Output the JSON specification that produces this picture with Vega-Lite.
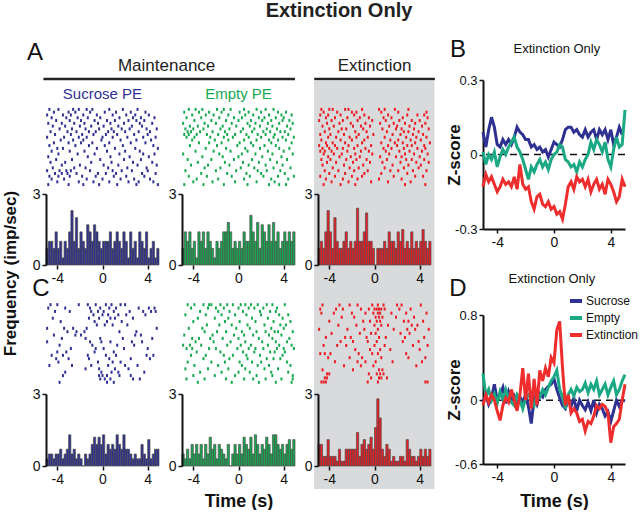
{
"$schema":"https://vega.github.io/schema/vega-lite/v6.json",
"background":"white",
"padding":{"left":1,"top":1,"right":0,"bottom":0},
"config":{
 "font":"Liberation Sans",
 "view":{"stroke":null},
 "axis":{"grid":false,"domainColor":"#111","tickColor":"#111","labelColor":"#111","titleColor":"#111","labelFontSize":14,"titleFontSize":17,"titleFontWeight":"bold","domainWidth":2,"tickWidth":1.5,"tickSize":4,"labelPadding":2},
 "title":{"color":"#111","fontWeight":"normal"},
 "text":{"color":"#111"}
},
"datasets":{
"rA1":[{"t":-4.7,"r":1},{"t":-3.9,"r":1},{"t":-2.6,"r":1},{"t":-2.1,"r":1},{"t":-1.4,"r":1},{"t":-0.9,"r":1},{"t":0.6,"r":1},{"t":1.8,"r":1},{"t":3.1,"r":1},
{"t":-4.3,"r":2},{"t":-3.0,"r":2},{"t":-2.4,"r":2},{"t":-1.1,"r":2},{"t":0.2,"r":2},{"t":1.2,"r":2},{"t":2.5,"r":2},{"t":3.8,"r":2},
{"t":-4.9,"r":3},{"t":-3.5,"r":3},{"t":-2.8,"r":3},{"t":-1.7,"r":3},{"t":-0.5,"r":3},{"t":0.9,"r":3},{"t":2.1,"r":3},{"t":2.9,"r":3},{"t":4.1,"r":3},
{"t":-4.5,"r":4},{"t":-3.2,"r":4},{"t":-2.2,"r":4},{"t":-1.3,"r":4},{"t":-0.2,"r":4},{"t":1.5,"r":4},{"t":2.7,"r":4},{"t":3.4,"r":4},{"t":4.6,"r":4},
{"t":-4.1,"r":5},{"t":-2.9,"r":5},{"t":-1.9,"r":5},{"t":-0.7,"r":5},{"t":0.4,"r":5},{"t":1.1,"r":5},{"t":2.3,"r":5},{"t":3.0,"r":5},{"t":3.7,"r":5},
{"t":-4.8,"r":6},{"t":-3.6,"r":6},{"t":-2.5,"r":6},{"t":-1.6,"r":6},{"t":-0.4,"r":6},{"t":0.7,"r":6},{"t":1.9,"r":6},{"t":3.3,"r":6},{"t":4.4,"r":6},
{"t":-4.4,"r":7},{"t":-3.3,"r":7},{"t":-2.0,"r":7},{"t":-1.0,"r":7},{"t":0.1,"r":7},{"t":1.4,"r":7},{"t":2.6,"r":7},{"t":3.5,"r":7},
{"t":-3.8,"r":8},{"t":-2.7,"r":8},{"t":-1.5,"r":8},{"t":-0.3,"r":8},{"t":0.8,"r":8},{"t":1.7,"r":8},{"t":2.4,"r":8},{"t":3.9,"r":8},{"t":4.8,"r":8},
{"t":-4.6,"r":9},{"t":-3.1,"r":9},{"t":-2.3,"r":9},{"t":-1.2,"r":9},{"t":-0.6,"r":9},{"t":0.5,"r":9},{"t":1.0,"r":9},{"t":2.0,"r":9},{"t":3.2,"r":9},{"t":4.2,"r":9},
{"t":-4.2,"r":10},{"t":-2.8,"r":10},{"t":-1.8,"r":10},{"t":-0.8,"r":10},{"t":0.3,"r":10},{"t":1.3,"r":10},{"t":2.8,"r":10},{"t":4.0,"r":10},
{"t":-4.9,"r":11},{"t":-3.4,"r":11},{"t":-2.1,"r":11},{"t":-1.4,"r":11},{"t":0.0,"r":11},{"t":0.9,"r":11},{"t":2.2,"r":11},{"t":3.6,"r":11},{"t":4.7,"r":11},
{"t":-3.7,"r":12},{"t":-2.6,"r":12},{"t":-1.7,"r":12},{"t":-0.1,"r":12},{"t":1.6,"r":12},{"t":3.0,"r":12},{"t":4.3,"r":12},
{"t":-4.3,"r":13},{"t":-3.0,"r":13},{"t":-1.9,"r":13},{"t":-0.9,"r":13},{"t":0.6,"r":13},{"t":2.5,"r":13},{"t":3.8,"r":13},
{"t":-4.7,"r":14},{"t":-2.4,"r":14},{"t":-1.2,"r":14},{"t":0.2,"r":14},{"t":1.8,"r":14},{"t":4.5,"r":14},
{"t":-4.0,"r":15},{"t":-3.5,"r":15},{"t":-0.5,"r":15},{"t":1.1,"r":15},{"t":2.9,"r":15},{"t":4.9,"r":15},
{"t":-4.5,"r":16},{"t":-2.9,"r":16},{"t":-1.6,"r":16},{"t":0.4,"r":16},{"t":2.0,"r":16},{"t":3.3,"r":16},
{"t":-3.9,"r":17},{"t":-2.2,"r":17},{"t":-0.7,"r":17},{"t":1.5,"r":17},{"t":3.6,"r":17},{"t":4.6,"r":17},
{"t":-4.8,"r":18},{"t":-1.3,"r":18},{"t":0.7,"r":18},{"t":2.4,"r":18},{"t":4.1,"r":18},
{"t":-4.1,"r":19},{"t":-2.7,"r":19},{"t":-0.2,"r":19},{"t":1.9,"r":19},{"t":3.4,"r":19},
{"t":-4.6,"r":20},{"t":-3.3,"r":20},{"t":-1.0,"r":20},{"t":0.8,"r":20},{"t":2.7,"r":20},{"t":4.4,"r":20},
{"t":-3.6,"r":21},{"t":-2.0,"r":21},{"t":0.1,"r":21},{"t":1.4,"r":21},{"t":3.1,"r":21},{"t":4.8,"r":21},
{"t":-4.4,"r":22},{"t":-2.5,"r":22},{"t":-1.5,"r":22},{"t":0.5,"r":22},{"t":2.2,"r":22},{"t":3.9,"r":22},
{"t":-4.9,"r":23},{"t":-3.8,"r":23},{"t":-3.2,"r":23},{"t":-2.8,"r":23},{"t":-1.1,"r":23},{"t":0.9,"r":23},{"t":1.7,"r":23},{"t":2.6,"r":23},{"t":4.0,"r":23},
{"t":-4.2,"r":24},{"t":-3.6,"r":24},{"t":-3.1,"r":24},{"t":-2.3,"r":24},{"t":-0.4,"r":24},{"t":0.3,"r":24},{"t":1.2,"r":24},{"t":3.5,"r":24},{"t":4.7,"r":24},
{"t":-4.7,"r":25},{"t":-3.9,"r":25},{"t":-2.9,"r":25},{"t":-1.8,"r":25},{"t":-0.6,"r":25},{"t":1.0,"r":25},{"t":2.1,"r":25},{"t":3.7,"r":25},
{"t":-4.5,"r":26},{"t":-3.4,"r":26},{"t":-1.4,"r":26},{"t":0.0,"r":26},{"t":1.6,"r":26},{"t":2.8,"r":26},{"t":4.2,"r":26},
{"t":-4.0,"r":27},{"t":-2.1,"r":27},{"t":-0.8,"r":27},{"t":0.6,"r":27},{"t":2.3,"r":27},{"t":3.2,"r":27},{"t":4.5,"r":27},
{"t":-4.8,"r":28},{"t":-3.0,"r":28},{"t":-1.7,"r":28},{"t":-0.3,"r":28},{"t":1.3,"r":28},{"t":3.0,"r":28},{"t":4.9,"r":28}],
"rA2":[{"t":-4.4,"r":1},{"t":-3.8,"r":1},{"t":-3.2,"r":1},{"t":-1.9,"r":1},{"t":-1.3,"r":1},{"t":-0.7,"r":1},{"t":0.5,"r":1},{"t":1.6,"r":1},{"t":2.4,"r":1},{"t":3.1,"r":1},
{"t":-4.8,"r":2},{"t":-3.5,"r":2},{"t":-2.6,"r":2},{"t":-1.5,"r":2},{"t":0.1,"r":2},{"t":0.9,"r":2},{"t":2.0,"r":2},{"t":3.5,"r":2},{"t":4.2,"r":2},
{"t":-4.1,"r":3},{"t":-2.9,"r":3},{"t":-2.2,"r":3},{"t":-0.9,"r":3},{"t":0.6,"r":3},{"t":1.3,"r":3},{"t":2.7,"r":3},{"t":3.8,"r":3},{"t":4.7,"r":3},
{"t":-4.6,"r":4},{"t":-3.3,"r":4},{"t":-1.7,"r":4},{"t":-0.4,"r":4},{"t":0.3,"r":4},{"t":1.8,"r":4},{"t":2.3,"r":4},{"t":3.3,"r":4},{"t":4.0,"r":4},
{"t":-3.9,"r":5},{"t":-2.4,"r":5},{"t":-1.1,"r":5},{"t":0.0,"r":5},{"t":1.1,"r":5},{"t":2.1,"r":5},{"t":2.9,"r":5},{"t":3.9,"r":5},{"t":4.5,"r":5},
{"t":-4.9,"r":6},{"t":-3.0,"r":6},{"t":-2.0,"r":6},{"t":-0.6,"r":6},{"t":0.8,"r":6},{"t":1.5,"r":6},{"t":2.6,"r":6},{"t":3.6,"r":6},{"t":4.8,"r":6},
{"t":-4.3,"r":7},{"t":-3.6,"r":7},{"t":-2.7,"r":7},{"t":-1.4,"r":7},{"t":-0.2,"r":7},{"t":1.0,"r":7},{"t":1.9,"r":7},{"t":3.0,"r":7},{"t":4.3,"r":7},
{"t":-4.7,"r":8},{"t":-4.0,"r":8},{"t":-3.1,"r":8},{"t":-1.6,"r":8},{"t":-0.8,"r":8},{"t":0.4,"r":8},{"t":1.4,"r":8},{"t":2.5,"r":8},{"t":3.4,"r":8},{"t":4.6,"r":8},
{"t":-4.5,"r":9},{"t":-4.2,"r":9},{"t":-3.4,"r":9},{"t":-2.3,"r":9},{"t":-1.2,"r":9},{"t":0.2,"r":9},{"t":1.2,"r":9},{"t":2.2,"r":9},{"t":2.8,"r":9},{"t":3.7,"r":9},{"t":4.1,"r":9},
{"t":-4.8,"r":10},{"t":-4.4,"r":10},{"t":-3.7,"r":10},{"t":-2.8,"r":10},{"t":-1.8,"r":10},{"t":-1.0,"r":10},{"t":-0.3,"r":10},{"t":0.7,"r":10},{"t":1.7,"r":10},{"t":2.4,"r":10},{"t":3.2,"r":10},{"t":4.4,"r":10},
{"t":-4.6,"r":11},{"t":-3.9,"r":11},{"t":-2.5,"r":11},{"t":-1.3,"r":11},{"t":-0.5,"r":11},{"t":0.9,"r":11},{"t":2.0,"r":11},{"t":3.1,"r":11},{"t":3.9,"r":11},{"t":4.9,"r":11},
{"t":-4.1,"r":12},{"t":-2.1,"r":12},{"t":-0.9,"r":12},{"t":0.5,"r":12},{"t":1.6,"r":12},{"t":2.7,"r":12},{"t":3.5,"r":12},{"t":4.2,"r":12},
{"t":-3.5,"r":13},{"t":-2.6,"r":13},{"t":-1.5,"r":13},{"t":0.1,"r":13},{"t":1.1,"r":13},{"t":2.9,"r":13},{"t":4.7,"r":13},
{"t":-4.3,"r":14},{"t":-1.9,"r":14},{"t":-0.1,"r":14},{"t":1.3,"r":14},{"t":2.3,"r":14},{"t":3.3,"r":14},
{"t":-2.9,"r":15},{"t":-1.1,"r":15},{"t":0.6,"r":15},{"t":1.9,"r":15},{"t":3.6,"r":15},{"t":4.5,"r":15},
{"t":-3.8,"r":16},{"t":-2.2,"r":16},{"t":-0.7,"r":16},{"t":0.8,"r":16},{"t":2.6,"r":16},{"t":4.0,"r":16},
{"t":-4.9,"r":17},{"t":-1.7,"r":17},{"t":0.3,"r":17},{"t":1.5,"r":17},{"t":3.0,"r":17},{"t":4.8,"r":17},
{"t":-3.2,"r":18},{"t":-1.4,"r":18},{"t":0.0,"r":18},{"t":2.1,"r":18},{"t":3.8,"r":18},
{"t":-4.5,"r":19},{"t":-2.4,"r":19},{"t":-0.4,"r":19},{"t":1.2,"r":19},{"t":2.8,"r":19},{"t":4.3,"r":19},
{"t":-3.6,"r":20},{"t":-1.2,"r":20},{"t":0.4,"r":20},{"t":1.8,"r":20},{"t":3.4,"r":20},
{"t":-4.2,"r":21},{"t":-2.7,"r":21},{"t":-0.8,"r":21},{"t":0.9,"r":21},{"t":2.4,"r":21},{"t":3.9,"r":21},
{"t":-3.0,"r":22},{"t":-1.6,"r":22},{"t":0.2,"r":22},{"t":1.4,"r":22},{"t":3.1,"r":22},{"t":4.6,"r":22},
{"t":-4.7,"r":23},{"t":-2.0,"r":23},{"t":-0.2,"r":23},{"t":1.7,"r":23},{"t":2.5,"r":23},{"t":3.7,"r":23},
{"t":-3.3,"r":24},{"t":-1.0,"r":24},{"t":0.7,"r":24},{"t":2.0,"r":24},{"t":4.1,"r":24},
{"t":-4.4,"r":25},{"t":-2.8,"r":25},{"t":-0.6,"r":25},{"t":1.0,"r":25},{"t":2.2,"r":25},{"t":3.5,"r":25},{"t":4.9,"r":25},
{"t":-3.7,"r":26},{"t":-1.8,"r":26},{"t":0.5,"r":26},{"t":2.9,"r":26},{"t":4.4,"r":26},
{"t":-4.0,"r":27},{"t":-2.3,"r":27},{"t":-0.3,"r":27},{"t":1.6,"r":27},{"t":3.2,"r":27},
{"t":-4.8,"r":28},{"t":-3.1,"r":28},{"t":-1.3,"r":28},{"t":0.8,"r":28},{"t":2.7,"r":28},{"t":3.6,"r":28},{"t":4.2,"r":28}],
"rA3":[{"t":-4.7,"r":1},{"t":-4.0,"r":1},{"t":-3.7,"r":1},{"t":-2.6,"r":1},{"t":-2.3,"r":1},{"t":-1.1,"r":1},{"t":0.4,"r":1},{"t":0.9,"r":1},{"t":1.8,"r":1},{"t":3.0,"r":1},
{"t":-4.5,"r":2},{"t":-3.3,"r":2},{"t":-2.0,"r":2},{"t":-1.6,"r":2},{"t":0.6,"r":2},{"t":2.1,"r":2},{"t":4.6,"r":2},
{"t":-4.8,"r":3},{"t":-4.1,"r":3},{"t":-3.0,"r":3},{"t":-1.8,"r":3},{"t":-0.9,"r":3},{"t":1.2,"r":3},{"t":2.9,"r":3},{"t":3.8,"r":3},{"t":4.4,"r":3},
{"t":-4.3,"r":4},{"t":-3.5,"r":4},{"t":-2.4,"r":4},{"t":-1.3,"r":4},{"t":-0.5,"r":4},{"t":0.8,"r":4},{"t":1.5,"r":4},{"t":2.5,"r":4},{"t":4.7,"r":4},
{"t":-4.9,"r":5},{"t":-3.8,"r":5},{"t":-2.8,"r":5},{"t":-1.5,"r":5},{"t":-0.2,"r":5},{"t":1.0,"r":5},{"t":2.2,"r":5},{"t":3.3,"r":5},{"t":4.0,"r":5},
{"t":-4.2,"r":6},{"t":-3.1,"r":6},{"t":-2.1,"r":6},{"t":-0.8,"r":6},{"t":0.5,"r":6},{"t":1.7,"r":6},{"t":2.7,"r":6},{"t":3.6,"r":6},{"t":4.5,"r":6},
{"t":-4.6,"r":7},{"t":-3.6,"r":7},{"t":-1.9,"r":7},{"t":-1.2,"r":7},{"t":-0.4,"r":7},{"t":1.3,"r":7},{"t":2.0,"r":7},{"t":3.1,"r":7},{"t":4.2,"r":7},
{"t":-4.0,"r":8},{"t":-2.9,"r":8},{"t":-2.5,"r":8},{"t":-1.0,"r":8},{"t":0.7,"r":8},{"t":1.9,"r":8},{"t":2.4,"r":8},{"t":3.5,"r":8},{"t":4.8,"r":8},
{"t":-4.4,"r":9},{"t":-3.2,"r":9},{"t":-1.7,"r":9},{"t":-0.7,"r":9},{"t":1.1,"r":9},{"t":2.6,"r":9},{"t":3.0,"r":9},{"t":3.9,"r":9},
{"t":-4.8,"r":10},{"t":-3.9,"r":10},{"t":-2.7,"r":10},{"t":-1.4,"r":10},{"t":-0.1,"r":10},{"t":1.6,"r":10},{"t":2.3,"r":10},{"t":3.4,"r":10},{"t":4.3,"r":10},
{"t":-4.1,"r":11},{"t":-3.4,"r":11},{"t":-2.2,"r":11},{"t":-1.6,"r":11},{"t":-0.6,"r":11},{"t":0.9,"r":11},{"t":2.8,"r":11},{"t":3.7,"r":11},{"t":4.6,"r":11},
{"t":-4.7,"r":12},{"t":-3.0,"r":12},{"t":-2.0,"r":12},{"t":-0.9,"r":12},{"t":1.4,"r":12},{"t":2.1,"r":12},{"t":3.2,"r":12},{"t":4.1,"r":12},
{"t":-4.3,"r":13},{"t":-3.7,"r":13},{"t":-2.6,"r":13},{"t":-1.1,"r":13},{"t":0.6,"r":13},{"t":1.8,"r":13},{"t":2.5,"r":13},{"t":3.6,"r":13},{"t":4.9,"r":13},
{"t":-4.9,"r":14},{"t":-4.2,"r":14},{"t":-3.5,"r":14},{"t":-2.3,"r":14},{"t":-1.5,"r":14},{"t":-0.3,"r":14},{"t":1.2,"r":14},{"t":2.0,"r":14},{"t":2.9,"r":14},{"t":3.3,"r":14},{"t":4.4,"r":14},
{"t":-4.6,"r":15},{"t":-4.0,"r":15},{"t":-3.3,"r":15},{"t":-2.8,"r":15},{"t":-1.8,"r":15},{"t":-0.8,"r":15},{"t":0.8,"r":15},{"t":1.5,"r":15},{"t":2.6,"r":15},{"t":3.8,"r":15},{"t":4.5,"r":15},
{"t":-4.8,"r":16},{"t":-4.4,"r":16},{"t":-3.8,"r":16},{"t":-2.4,"r":16},{"t":-1.2,"r":16},{"t":-0.5,"r":16},{"t":1.0,"r":16},{"t":2.2,"r":16},{"t":3.1,"r":16},{"t":4.2,"r":16},
{"t":-4.5,"r":17},{"t":-3.6,"r":17},{"t":-2.9,"r":17},{"t":-1.7,"r":17},{"t":-0.2,"r":17},{"t":1.3,"r":17},{"t":2.7,"r":17},{"t":3.5,"r":17},{"t":4.7,"r":17},
{"t":-4.1,"r":18},{"t":-3.1,"r":18},{"t":-2.1,"r":18},{"t":-1.3,"r":18},{"t":0.5,"r":18},{"t":1.9,"r":18},{"t":2.4,"r":18},{"t":4.0,"r":18},
{"t":-4.7,"r":19},{"t":-3.9,"r":19},{"t":-2.5,"r":19},{"t":-1.6,"r":19},{"t":-0.7,"r":19},{"t":1.1,"r":19},{"t":2.8,"r":19},{"t":3.3,"r":19},{"t":4.4,"r":19},
{"t":-4.2,"r":20},{"t":-3.4,"r":20},{"t":-1.9,"r":20},{"t":-0.4,"r":20},{"t":0.7,"r":20},{"t":2.3,"r":20},{"t":3.7,"r":20},{"t":4.8,"r":20},
{"t":-4.6,"r":21},{"t":-2.7,"r":21},{"t":-1.0,"r":21},{"t":1.6,"r":21},{"t":3.0,"r":21},{"t":4.1,"r":21},
{"t":-3.7,"r":22},{"t":-2.2,"r":22},{"t":-1.4,"r":22},{"t":0.9,"r":22},{"t":2.6,"r":22},{"t":3.9,"r":22},
{"t":-4.4,"r":23},{"t":-3.2,"r":23},{"t":-1.8,"r":23},{"t":-0.6,"r":23},{"t":1.4,"r":23},{"t":2.1,"r":23},{"t":3.4,"r":23},{"t":4.6,"r":23},
{"t":-4.0,"r":24},{"t":-2.6,"r":24},{"t":-0.9,"r":24},{"t":0.6,"r":24},{"t":2.9,"r":24},
{"t":-4.8,"r":25},{"t":-3.5,"r":25},{"t":-2.0,"r":25},{"t":-1.1,"r":25},{"t":1.7,"r":25},{"t":3.6,"r":25},{"t":4.3,"r":25},
{"t":-4.3,"r":26},{"t":-2.8,"r":26},{"t":-1.5,"r":26},{"t":0.4,"r":26},{"t":2.4,"r":26},
{"t":-3.8,"r":27},{"t":-2.3,"r":27},{"t":-0.3,"r":27},{"t":1.2,"r":27},{"t":3.2,"r":27},
{"t":-4.5,"r":28},{"t":-3.0,"r":28},{"t":-1.7,"r":28},{"t":2.7,"r":28},{"t":4.5,"r":28}],
"rC1":[{"t":-4.6,"r":1},{"t":-4.0,"r":1},{"t":-2.1,"r":1},{"t":-1.3,"r":1},{"t":-0.6,"r":1},{"t":0.3,"r":1},{"t":0.8,"r":1},{"t":1.6,"r":1},{"t":2.0,"r":1},
{"t":-4.8,"r":2},{"t":-3.3,"r":2},{"t":-1.1,"r":2},{"t":-0.2,"r":2},{"t":0.6,"r":2},{"t":1.2,"r":2},{"t":3.2,"r":2},{"t":4.1,"r":2},{"t":4.6,"r":2},
{"t":-4.2,"r":3},{"t":-2.9,"r":3},{"t":-1.0,"r":3},{"t":-0.4,"r":3},{"t":0.1,"r":3},{"t":1.0,"r":3},{"t":2.4,"r":3},{"t":3.6,"r":3},{"t":4.3,"r":3},{"t":4.7,"r":3},
{"t":-0.8,"r":4},{"t":0.0,"r":4},{"t":0.5,"r":4},{"t":1.4,"r":4},{"t":2.1,"r":4},{"t":3.8,"r":4},
{"t":-4.4,"r":5},{"t":-1.2,"r":5},{"t":-0.3,"r":5},{"t":0.7,"r":5},{"t":1.1,"r":5},{"t":2.7,"r":5},
{"t":-3.7,"r":6},{"t":-0.7,"r":6},{"t":0.4,"r":6},{"t":1.7,"r":6},
{"t":-0.5,"r":7},{"t":0.2,"r":7},{"t":0.9,"r":7},{"t":2.2,"r":7},
{"t":-4.9,"r":8},{"t":-3.4,"r":8},{"t":-2.6,"r":8},{"t":-1.4,"r":8},{"t":4.8,"r":8},
{"t":-3.1,"r":9},{"t":-2.3,"r":9},{"t":-1.6,"r":9},{"t":1.5,"r":9},{"t":3.0,"r":9},
{"t":-4.3,"r":10},{"t":-2.4,"r":10},{"t":-1.9,"r":10},{"t":2.9,"r":10},{"t":3.4,"r":10},
{"t":-3.6,"r":11},{"t":-1.5,"r":11},{"t":-0.2,"r":11},{"t":1.8,"r":11},{"t":4.4,"r":11},
{"t":-4.9,"r":12},{"t":-1.1,"r":12},{"t":-0.1,"r":12},{"t":0.7,"r":12},{"t":2.6,"r":12},{"t":3.5,"r":12},
{"t":-3.8,"r":13},{"t":-0.9,"r":13},{"t":1.3,"r":13},{"t":2.8,"r":13},
{"t":-2.8,"r":14},{"t":-0.6,"r":14},{"t":0.1,"r":14},{"t":1.9,"r":14},{"t":4.0,"r":14},
{"t":-4.0,"r":15},{"t":-3.2,"r":15},{"t":-0.7,"r":15},{"t":1.0,"r":15},
{"t":-4.5,"r":16},{"t":-3.5,"r":16},{"t":-1.3,"r":16},{"t":0.3,"r":16},{"t":1.2,"r":16},{"t":3.9,"r":16},{"t":4.5,"r":16},
{"t":-4.1,"r":17},{"t":-3.0,"r":17},{"t":-1.2,"r":17},{"t":0.6,"r":17},{"t":2.5,"r":17},{"t":4.2,"r":17},
{"t":-3.9,"r":18},{"t":-0.4,"r":18},{"t":0.9,"r":18},{"t":1.6,"r":18},
{"t":-4.7,"r":19},{"t":-2.7,"r":19},{"t":-1.0,"r":19},{"t":0.5,"r":19},{"t":2.0,"r":19},{"t":3.1,"r":19},
{"t":-1.5,"r":20},{"t":-0.3,"r":20},{"t":1.1,"r":20},{"t":2.3,"r":20},
{"t":-3.3,"r":21},{"t":-0.1,"r":21},{"t":0.8,"r":21},{"t":1.4,"r":21},{"t":3.7,"r":21},
{"t":-3.5,"r":22},{"t":-0.3,"r":22},{"t":0.0,"r":22},{"t":0.4,"r":22},{"t":1.5,"r":22},{"t":2.5,"r":22},
{"t":-0.2,"r":23},{"t":0.2,"r":23},{"t":0.7,"r":23},{"t":2.7,"r":23},{"t":3.3,"r":23},
{"t":-3.8,"r":24},{"t":0.4,"r":24},{"t":1.0,"r":24}],
"rC2":[{"t":-4.5,"r":1},{"t":-3.9,"r":1},{"t":-3.1,"r":1},{"t":-2.6,"r":1},{"t":-2.4,"r":1},{"t":-1.6,"r":1},{"t":-1.0,"r":1},{"t":-0.5,"r":1},{"t":0.2,"r":1},{"t":0.6,"r":1},{"t":1.1,"r":1},{"t":1.7,"r":1},{"t":2.5,"r":1},{"t":3.0,"r":1},{"t":4.1,"r":1},
{"t":-4.2,"r":2},{"t":-2.7,"r":2},{"t":-2.0,"r":2},{"t":-1.3,"r":2},{"t":0.0,"r":2},{"t":0.9,"r":2},{"t":1.4,"r":2},{"t":2.2,"r":2},{"t":3.4,"r":2},
{"t":-3.4,"r":3},{"t":-1.8,"r":3},{"t":-0.8,"r":3},{"t":0.4,"r":3},{"t":1.9,"r":3},{"t":2.8,"r":3},{"t":3.3,"r":3},
{"t":-4.7,"r":4},{"t":-2.9,"r":4},{"t":-1.5,"r":4},{"t":-0.3,"r":4},{"t":0.7,"r":4},{"t":2.0,"r":4},{"t":3.6,"r":4},{"t":4.4,"r":4},
{"t":-3.6,"r":5},{"t":-2.1,"r":5},{"t":-0.9,"r":5},{"t":1.2,"r":5},{"t":2.6,"r":5},{"t":3.9,"r":5},
{"t":-4.0,"r":6},{"t":-1.2,"r":6},{"t":0.1,"r":6},{"t":1.5,"r":6},{"t":3.1,"r":6},{"t":4.6,"r":6},
{"t":-2.8,"r":7},{"t":-1.7,"r":7},{"t":-0.6,"r":7},{"t":0.8,"r":7},{"t":2.3,"r":7},{"t":3.7,"r":7},{"t":4.2,"r":7},
{"t":-4.4,"r":8},{"t":-3.2,"r":8},{"t":-0.2,"r":8},{"t":1.0,"r":8},{"t":2.9,"r":8},{"t":4.0,"r":8},
{"t":-3.0,"r":9},{"t":-1.9,"r":9},{"t":-1.1,"r":9},{"t":0.3,"r":9},{"t":1.6,"r":9},{"t":2.4,"r":9},{"t":3.2,"r":9},{"t":3.5,"r":9},{"t":4.8,"r":9},
{"t":-4.8,"r":10},{"t":-2.3,"r":10},{"t":-0.4,"r":10},{"t":0.5,"r":10},{"t":1.3,"r":10},{"t":2.7,"r":10},{"t":3.8,"r":10},
{"t":-4.1,"r":11},{"t":-3.5,"r":11},{"t":-2.5,"r":11},{"t":-1.4,"r":11},{"t":0.0,"r":11},{"t":1.8,"r":11},{"t":3.0,"r":11},{"t":4.5,"r":11},
{"t":-3.8,"r":12},{"t":-2.2,"r":12},{"t":-0.7,"r":12},{"t":0.6,"r":12},{"t":2.1,"r":12},{"t":3.3,"r":12},{"t":4.3,"r":12},
{"t":-4.9,"r":13},{"t":-4.3,"r":13},{"t":-3.3,"r":13},{"t":-1.0,"r":13},{"t":0.2,"r":13},{"t":1.1,"r":13},{"t":2.6,"r":13},{"t":3.6,"r":13},{"t":4.7,"r":13},
{"t":-4.6,"r":14},{"t":-4.1,"r":14},{"t":-2.6,"r":14},{"t":-2.0,"r":14},{"t":-0.1,"r":14},{"t":0.9,"r":14},{"t":1.5,"r":14},{"t":2.2,"r":14},{"t":3.4,"r":14},{"t":4.0,"r":14},{"t":4.9,"r":14},
{"t":-3.7,"r":15},{"t":-1.6,"r":15},{"t":0.4,"r":15},{"t":1.4,"r":15},{"t":2.8,"r":15},{"t":3.2,"r":15},{"t":4.1,"r":15},
{"t":-4.2,"r":16},{"t":-2.9,"r":16},{"t":-1.3,"r":16},{"t":-0.5,"r":16},{"t":0.7,"r":16},{"t":1.9,"r":16},{"t":3.9,"r":16},
{"t":-3.1,"r":17},{"t":-0.8,"r":17},{"t":0.8,"r":17},{"t":2.5,"r":17},{"t":3.1,"r":17},{"t":3.7,"r":17},
{"t":-4.5,"r":18},{"t":-2.4,"r":18},{"t":-1.2,"r":18},{"t":0.1,"r":18},{"t":1.2,"r":18},{"t":2.0,"r":18},{"t":4.3,"r":18},
{"t":-3.9,"r":19},{"t":-1.8,"r":19},{"t":0.3,"r":19},{"t":1.7,"r":19},{"t":2.7,"r":19},{"t":4.6,"r":19},
{"t":-4.7,"r":20},{"t":-2.7,"r":20},{"t":-0.9,"r":20},{"t":0.6,"r":20},{"t":2.3,"r":20},{"t":3.5,"r":20},
{"t":-3.4,"r":21},{"t":-1.5,"r":21},{"t":0.0,"r":21},{"t":1.0,"r":21},{"t":2.9,"r":21},{"t":4.4,"r":21},
{"t":-4.0,"r":22},{"t":-2.1,"r":22},{"t":-0.3,"r":22},{"t":1.6,"r":22},{"t":3.0,"r":22},{"t":4.8,"r":22},
{"t":-4.6,"r":23},{"t":-3.0,"r":23},{"t":-1.1,"r":23},{"t":0.5,"r":23},{"t":1.3,"r":23},{"t":2.4,"r":23},{"t":3.8,"r":23},{"t":4.8,"r":23},
{"t":-3.6,"r":24},{"t":-0.6,"r":24},{"t":1.8,"r":24},{"t":3.3,"r":24},{"t":4.7,"r":24}],
"rC3":[{"t":-4.6,"r":1},{"t":-3.1,"r":1},{"t":-2.2,"r":1},{"t":-1.5,"r":1},{"t":-0.2,"r":1},{"t":0.3,"r":1},{"t":0.8,"r":1},{"t":2.0,"r":1},{"t":2.4,"r":1},{"t":4.1,"r":1},
{"t":-4.8,"r":2},{"t":-3.4,"r":2},{"t":-2.8,"r":2},{"t":-1.2,"r":2},{"t":-0.5,"r":2},{"t":0.0,"r":2},{"t":0.2,"r":2},{"t":0.4,"r":2},{"t":0.6,"r":2},{"t":0.9,"r":2},{"t":2.2,"r":2},{"t":3.2,"r":2},
{"t":-4.7,"r":3},{"t":-3.6,"r":3},{"t":-2.0,"r":3},{"t":-0.8,"r":3},{"t":-0.1,"r":3},{"t":0.3,"r":3},{"t":0.5,"r":3},{"t":1.5,"r":3},{"t":2.8,"r":3},{"t":4.6,"r":3},
{"t":-2.9,"r":4},{"t":-1.8,"r":4},{"t":0.1,"r":4},{"t":0.4,"r":4},{"t":0.7,"r":4},{"t":1.9,"r":4},{"t":3.5,"r":4},
{"t":-4.0,"r":5},{"t":-1.0,"r":5},{"t":-0.4,"r":5},{"t":0.2,"r":5},{"t":0.5,"r":5},{"t":2.6,"r":5},{"t":3.0,"r":5},{"t":4.3,"r":5},
{"t":-3.2,"r":6},{"t":-1.6,"r":6},{"t":0.0,"r":6},{"t":0.6,"r":6},{"t":1.2,"r":6},{"t":3.3,"r":6},{"t":3.8,"r":6},
{"t":-4.9,"r":7},{"t":-2.4,"r":7},{"t":-0.9,"r":7},{"t":0.3,"r":7},{"t":1.7,"r":7},{"t":2.9,"r":7},{"t":3.6,"r":7},{"t":4.8,"r":7},
{"t":-3.8,"r":8},{"t":-1.3,"r":8},{"t":-0.3,"r":8},{"t":0.1,"r":8},{"t":2.3,"r":8},{"t":3.1,"r":8},
{"t":-4.3,"r":9},{"t":-2.6,"r":9},{"t":-2.1,"r":9},{"t":-0.7,"r":9},{"t":0.4,"r":9},{"t":1.0,"r":9},{"t":2.7,"r":9},{"t":4.4,"r":9},
{"t":-3.0,"r":10},{"t":-1.9,"r":10},{"t":-0.6,"r":10},{"t":0.2,"r":10},{"t":2.5,"r":10},{"t":3.9,"r":10},
{"t":-4.5,"r":11},{"t":-3.3,"r":11},{"t":-2.5,"r":11},{"t":0.0,"r":11},{"t":0.9,"r":11},{"t":3.4,"r":11},{"t":4.7,"r":11},
{"t":-1.7,"r":12},{"t":-0.4,"r":12},{"t":0.5,"r":12},{"t":1.4,"r":12},{"t":4.0,"r":12},
{"t":-4.8,"r":13},{"t":-4.4,"r":13},{"t":-3.9,"r":13},{"t":-1.4,"r":13},{"t":-0.2,"r":13},{"t":0.3,"r":13},{"t":2.8,"r":13},
{"t":-4.1,"r":14},{"t":-2.2,"r":14},{"t":-1.1,"r":14},{"t":0.6,"r":14},{"t":3.0,"r":14},{"t":4.5,"r":14},
{"t":-3.5,"r":15},{"t":-1.5,"r":15},{"t":-0.8,"r":15},{"t":0.1,"r":15},{"t":1.6,"r":15},{"t":4.2,"r":15},
{"t":-2.7,"r":16},{"t":-1.2,"r":16},{"t":-0.1,"r":16},{"t":3.7,"r":16},
{"t":-4.6,"r":17},{"t":-1.9,"r":17},{"t":0.4,"r":17},{"t":0.7,"r":17},
{"t":-4.2,"r":18},{"t":-4.0,"r":18},{"t":-0.5,"r":18},{"t":0.2,"r":18},{"t":0.5,"r":18},{"t":0.8,"r":18},
{"t":-4.4,"r":19},{"t":-4.2,"r":19},{"t":-0.3,"r":19},{"t":0.4,"r":19},{"t":0.6,"r":19},{"t":1.1,"r":19},
{"t":-4.7,"r":20},{"t":-4.5,"r":20},{"t":-4.3,"r":20},{"t":-0.6,"r":20},{"t":0.3,"r":20},{"t":4.5,"r":20},{"t":4.7,"r":20}],
"hA1":[{"t0":-5,"t1":-4.8,"rate":0.7},{"t0":-4.8,"t1":-4.6,"rate":1.0},{"t0":-4.6,"t1":-4.4,"rate":1.0},{"t0":-4.4,"t1":-4.2,"rate":0.7},{"t0":-4.2,"t1":-4,"rate":1.4},{"t0":-4,"t1":-3.8,"rate":0.7},{"t0":-3.8,"t1":-3.6,"rate":1.0},{"t0":-3.6,"t1":-3.4,"rate":0.3},{"t0":-3.4,"t1":-3.2,"rate":1.0},{"t0":-3.2,"t1":-3,"rate":0.7},{"t0":-3,"t1":-2.8,"rate":1.4},{"t0":-2.8,"t1":-2.6,"rate":2.3},{"t0":-2.6,"t1":-2.4,"rate":1.0},{"t0":-2.4,"t1":-2.2,"rate":2.0},{"t0":-2.2,"t1":-2,"rate":0.7},{"t0":-2,"t1":-1.8,"rate":1.4},{"t0":-1.8,"t1":-1.6,"rate":1.0},{"t0":-1.6,"t1":-1.4,"rate":0.7},{"t0":-1.4,"t1":-1.2,"rate":1.7},{"t0":-1.2,"t1":-1,"rate":1.4},{"t0":-1,"t1":-0.8,"rate":1.0},{"t0":-0.8,"t1":-0.6,"rate":1.7},{"t0":-0.6,"t1":-0.4,"rate":1.4},{"t0":-0.4,"t1":-0.2,"rate":1.0},{"t0":-0.2,"t1":0,"rate":0.7},{"t0":0,"t1":0.2,"rate":1.0},{"t0":0.2,"t1":0.4,"rate":1.0},{"t0":0.4,"t1":0.6,"rate":1.0},{"t0":0.6,"t1":0.8,"rate":1.4},{"t0":0.8,"t1":1,"rate":0.7},{"t0":1,"t1":1.2,"rate":1.0},{"t0":1.2,"t1":1.4,"rate":1.4},{"t0":1.4,"t1":1.6,"rate":1.0},{"t0":1.6,"t1":1.8,"rate":0.7},{"t0":1.8,"t1":2,"rate":1.4},{"t0":2,"t1":2.2,"rate":1.0},{"t0":2.2,"t1":2.4,"rate":0.3},{"t0":2.4,"t1":2.6,"rate":1.4},{"t0":2.6,"t1":2.8,"rate":0.7},{"t0":2.8,"t1":3,"rate":1.0},{"t0":3,"t1":3.2,"rate":0.3},{"t0":3.2,"t1":3.4,"rate":1.4},{"t0":3.4,"t1":3.6,"rate":1.0},{"t0":3.6,"t1":3.8,"rate":0.7},{"t0":3.8,"t1":4,"rate":1.4},{"t0":4,"t1":4.2,"rate":0.3},{"t0":4.2,"t1":4.4,"rate":0.7},{"t0":4.4,"t1":4.6,"rate":1.0},{"t0":4.6,"t1":4.8,"rate":0.3},{"t0":4.8,"t1":5,"rate":0.7}],
"hA2":[{"t0":-5,"t1":-4.8,"rate":0.7},{"t0":-4.8,"t1":-4.6,"rate":1.4},{"t0":-4.6,"t1":-4.4,"rate":1.0},{"t0":-4.4,"t1":-4.2,"rate":1.4},{"t0":-4.2,"t1":-4,"rate":0.7},{"t0":-4,"t1":-3.8,"rate":1.0},{"t0":-3.8,"t1":-3.6,"rate":0.3},{"t0":-3.6,"t1":-3.4,"rate":1.4},{"t0":-3.4,"t1":-3.2,"rate":1.0},{"t0":-3.2,"t1":-3,"rate":1.4},{"t0":-3,"t1":-2.8,"rate":0.7},{"t0":-2.8,"t1":-2.6,"rate":1.4},{"t0":-2.6,"t1":-2.4,"rate":1.0},{"t0":-2.4,"t1":-2.2,"rate":0.7},{"t0":-2.2,"t1":-2,"rate":0.3},{"t0":-2,"t1":-1.8,"rate":1.0},{"t0":-1.8,"t1":-1.6,"rate":0.7},{"t0":-1.6,"t1":-1.4,"rate":1.0},{"t0":-1.4,"t1":-1.2,"rate":1.4},{"t0":-1.2,"t1":-1,"rate":1.4},{"t0":-1,"t1":-0.8,"rate":1.8},{"t0":-0.8,"t1":-0.6,"rate":1.4},{"t0":-0.6,"t1":-0.4,"rate":0.7},{"t0":-0.4,"t1":-0.2,"rate":1.0},{"t0":-0.2,"t1":0,"rate":0.7},{"t0":0,"t1":0.2,"rate":1.0},{"t0":0.2,"t1":0.4,"rate":0.7},{"t0":0.4,"t1":0.6,"rate":1.4},{"t0":0.6,"t1":0.8,"rate":1.0},{"t0":0.8,"t1":1,"rate":1.0},{"t0":1,"t1":1.2,"rate":2.1},{"t0":1.2,"t1":1.4,"rate":1.4},{"t0":1.4,"t1":1.6,"rate":1.0},{"t0":1.6,"t1":1.8,"rate":1.8},{"t0":1.8,"t1":2,"rate":0.7},{"t0":2,"t1":2.2,"rate":1.7},{"t0":2.2,"t1":2.4,"rate":1.4},{"t0":2.4,"t1":2.6,"rate":1.0},{"t0":2.6,"t1":2.8,"rate":1.7},{"t0":2.8,"t1":3,"rate":1.0},{"t0":3,"t1":3.2,"rate":1.8},{"t0":3.2,"t1":3.4,"rate":1.0},{"t0":3.4,"t1":3.6,"rate":1.4},{"t0":3.6,"t1":3.8,"rate":0.7},{"t0":3.8,"t1":4,"rate":1.0},{"t0":4,"t1":4.2,"rate":1.4},{"t0":4.2,"t1":4.4,"rate":1.0},{"t0":4.4,"t1":4.6,"rate":1.4},{"t0":4.6,"t1":4.8,"rate":1.0},{"t0":4.8,"t1":5,"rate":1.4}],
"hA3":[{"t0":-5,"t1":-4.8,"rate":0.7},{"t0":-4.8,"t1":-4.6,"rate":1.0},{"t0":-4.6,"t1":-4.4,"rate":0.7},{"t0":-4.4,"t1":-4.2,"rate":1.4},{"t0":-4.2,"t1":-4,"rate":2.3},{"t0":-4,"t1":-3.8,"rate":1.4},{"t0":-3.8,"t1":-3.6,"rate":0.7},{"t0":-3.6,"t1":-3.4,"rate":2.0},{"t0":-3.4,"t1":-3.2,"rate":1.0},{"t0":-3.2,"t1":-3,"rate":0.7},{"t0":-3,"t1":-2.8,"rate":0.7},{"t0":-2.8,"t1":-2.6,"rate":1.0},{"t0":-2.6,"t1":-2.4,"rate":1.4},{"t0":-2.4,"t1":-2.2,"rate":0.7},{"t0":-2.2,"t1":-2,"rate":1.0},{"t0":-2,"t1":-1.8,"rate":0.7},{"t0":-1.8,"t1":-1.6,"rate":1.0},{"t0":-1.6,"t1":-1.4,"rate":2.4},{"t0":-1.4,"t1":-1.2,"rate":1.0},{"t0":-1.2,"t1":-1,"rate":1.0},{"t0":-1,"t1":-0.8,"rate":1.4},{"t0":-0.8,"t1":-0.6,"rate":2.2},{"t0":-0.6,"t1":-0.4,"rate":1.0},{"t0":-0.4,"t1":-0.2,"rate":1.0},{"t0":-0.2,"t1":0,"rate":0.7},{"t0":0,"t1":0.2,"rate":0.0},{"t0":0.2,"t1":0.4,"rate":0.7},{"t0":0.4,"t1":0.6,"rate":0.7},{"t0":0.6,"t1":0.8,"rate":0.7},{"t0":0.8,"t1":1,"rate":1.0},{"t0":1,"t1":1.2,"rate":0.7},{"t0":1.2,"t1":1.4,"rate":1.4},{"t0":1.4,"t1":1.6,"rate":1.0},{"t0":1.6,"t1":1.8,"rate":1.0},{"t0":1.8,"t1":2,"rate":0.7},{"t0":2,"t1":2.2,"rate":1.4},{"t0":2.2,"t1":2.4,"rate":1.0},{"t0":2.4,"t1":2.6,"rate":1.5},{"t0":2.6,"t1":2.8,"rate":0.7},{"t0":2.8,"t1":3,"rate":1.0},{"t0":3,"t1":3.2,"rate":0.7},{"t0":3.2,"t1":3.4,"rate":1.4},{"t0":3.4,"t1":3.6,"rate":0.7},{"t0":3.6,"t1":3.8,"rate":1.0},{"t0":3.8,"t1":4,"rate":0.7},{"t0":4,"t1":4.2,"rate":1.0},{"t0":4.2,"t1":4.4,"rate":1.5},{"t0":4.4,"t1":4.6,"rate":1.0},{"t0":4.6,"t1":4.8,"rate":0.7},{"t0":4.8,"t1":5,"rate":1.0}],
"hC1":[{"t0":-5,"t1":-4.8,"rate":0.3},{"t0":-4.8,"t1":-4.6,"rate":0.5},{"t0":-4.6,"t1":-4.4,"rate":0.5},{"t0":-4.4,"t1":-4.2,"rate":0.3},{"t0":-4.2,"t1":-4,"rate":0.5},{"t0":-4,"t1":-3.8,"rate":0.5},{"t0":-3.8,"t1":-3.6,"rate":0.7},{"t0":-3.6,"t1":-3.4,"rate":0.3},{"t0":-3.4,"t1":-3.2,"rate":0.5},{"t0":-3.2,"t1":-3,"rate":0.7},{"t0":-3,"t1":-2.8,"rate":1.3},{"t0":-2.8,"t1":-2.6,"rate":0.5},{"t0":-2.6,"t1":-2.4,"rate":0.7},{"t0":-2.4,"t1":-2.2,"rate":0.3},{"t0":-2.2,"t1":-2,"rate":0.5},{"t0":-2,"t1":-1.8,"rate":0.3},{"t0":-1.8,"t1":-1.6,"rate":0.0},{"t0":-1.6,"t1":-1.4,"rate":0.5},{"t0":-1.4,"t1":-1.2,"rate":0.3},{"t0":-1.2,"t1":-1,"rate":0.5},{"t0":-1,"t1":-0.8,"rate":0.9},{"t0":-0.8,"t1":-0.6,"rate":1.2},{"t0":-0.6,"t1":-0.4,"rate":0.9},{"t0":-0.4,"t1":-0.2,"rate":1.2},{"t0":-0.2,"t1":0,"rate":0.9},{"t0":0,"t1":0.2,"rate":1.3},{"t0":0.2,"t1":0.4,"rate":0.5},{"t0":0.4,"t1":0.6,"rate":0.9},{"t0":0.6,"t1":0.8,"rate":0.7},{"t0":0.8,"t1":1,"rate":0.9},{"t0":1,"t1":1.2,"rate":0.7},{"t0":1.2,"t1":1.4,"rate":1.3},{"t0":1.4,"t1":1.6,"rate":0.9},{"t0":1.6,"t1":1.8,"rate":0.7},{"t0":1.8,"t1":2,"rate":1.3},{"t0":2,"t1":2.2,"rate":0.7},{"t0":2.2,"t1":2.4,"rate":0.7},{"t0":2.4,"t1":2.6,"rate":0.5},{"t0":2.6,"t1":2.8,"rate":0.3},{"t0":2.8,"t1":3,"rate":0.5},{"t0":3,"t1":3.2,"rate":0.3},{"t0":3.2,"t1":3.4,"rate":0.3},{"t0":3.4,"t1":3.6,"rate":0.9},{"t0":3.6,"t1":3.8,"rate":0.5},{"t0":3.8,"t1":4,"rate":0.3},{"t0":4,"t1":4.2,"rate":1.1},{"t0":4.2,"t1":4.4,"rate":0.3},{"t0":4.4,"t1":4.6,"rate":0.5},{"t0":4.6,"t1":4.8,"rate":0.7},{"t0":4.8,"t1":5,"rate":0.7}],
"hC2":[{"t0":-5,"t1":-4.8,"rate":0.5},{"t0":-4.8,"t1":-4.6,"rate":0.3},{"t0":-4.6,"t1":-4.4,"rate":0.7},{"t0":-4.4,"t1":-4.2,"rate":0.3},{"t0":-4.2,"t1":-4,"rate":0.9},{"t0":-4,"t1":-3.8,"rate":0.5},{"t0":-3.8,"t1":-3.6,"rate":0.9},{"t0":-3.6,"t1":-3.4,"rate":0.5},{"t0":-3.4,"t1":-3.2,"rate":0.9},{"t0":-3.2,"t1":-3,"rate":0.3},{"t0":-3,"t1":-2.8,"rate":0.9},{"t0":-2.8,"t1":-2.6,"rate":0.5},{"t0":-2.6,"t1":-2.4,"rate":1.2},{"t0":-2.4,"t1":-2.2,"rate":0.7},{"t0":-2.2,"t1":-2,"rate":0.9},{"t0":-2,"t1":-1.8,"rate":0.3},{"t0":-1.8,"t1":-1.6,"rate":0.9},{"t0":-1.6,"t1":-1.4,"rate":0.7},{"t0":-1.4,"t1":-1.2,"rate":0.5},{"t0":-1.2,"t1":-1,"rate":0.3},{"t0":-1,"t1":-0.8,"rate":0.9},{"t0":-0.8,"t1":-0.6,"rate":0.0},{"t0":-0.6,"t1":-0.4,"rate":0.5},{"t0":-0.4,"t1":-0.2,"rate":0.9},{"t0":-0.2,"t1":0,"rate":0.5},{"t0":0,"t1":0.2,"rate":0.9},{"t0":0.2,"t1":0.4,"rate":0.5},{"t0":0.4,"t1":0.6,"rate":1.2},{"t0":0.6,"t1":0.8,"rate":0.9},{"t0":0.8,"t1":1,"rate":0.7},{"t0":1,"t1":1.2,"rate":1.2},{"t0":1.2,"t1":1.4,"rate":0.5},{"t0":1.4,"t1":1.6,"rate":1.3},{"t0":1.6,"t1":1.8,"rate":0.9},{"t0":1.8,"t1":2,"rate":0.5},{"t0":2,"t1":2.2,"rate":0.9},{"t0":2.2,"t1":2.4,"rate":0.7},{"t0":2.4,"t1":2.6,"rate":1.2},{"t0":2.6,"t1":2.8,"rate":0.9},{"t0":2.8,"t1":3,"rate":0.5},{"t0":3,"t1":3.2,"rate":1.3},{"t0":3.2,"t1":3.4,"rate":1.3},{"t0":3.4,"t1":3.6,"rate":0.9},{"t0":3.6,"t1":3.8,"rate":0.7},{"t0":3.8,"t1":4,"rate":0.9},{"t0":4,"t1":4.2,"rate":0.5},{"t0":4.2,"t1":4.4,"rate":0.9},{"t0":4.4,"t1":4.6,"rate":1.1},{"t0":4.6,"t1":4.8,"rate":0.7},{"t0":4.8,"t1":5,"rate":1.1}],
"hC3":[{"t0":-5,"t1":-4.8,"rate":0.9},{"t0":-4.8,"t1":-4.6,"rate":0.9},{"t0":-4.6,"t1":-4.4,"rate":0.4},{"t0":-4.4,"t1":-4.2,"rate":0.4},{"t0":-4.2,"t1":-4,"rate":1.1},{"t0":-4,"t1":-3.8,"rate":0.4},{"t0":-3.8,"t1":-3.6,"rate":0.4},{"t0":-3.6,"t1":-3.4,"rate":0.4},{"t0":-3.4,"t1":-3.2,"rate":0.2},{"t0":-3.2,"t1":-3,"rate":0.7},{"t0":-3,"t1":-2.8,"rate":0.2},{"t0":-2.8,"t1":-2.6,"rate":0.2},{"t0":-2.6,"t1":-2.4,"rate":0.7},{"t0":-2.4,"t1":-2.2,"rate":0.7},{"t0":-2.2,"t1":-2,"rate":0.7},{"t0":-2,"t1":-1.8,"rate":0.7},{"t0":-1.8,"t1":-1.6,"rate":0.7},{"t0":-1.6,"t1":-1.4,"rate":1.4},{"t0":-1.4,"t1":-1.2,"rate":0.4},{"t0":-1.2,"t1":-1,"rate":0.9},{"t0":-1,"t1":-0.8,"rate":1.1},{"t0":-0.8,"t1":-0.6,"rate":0.7},{"t0":-0.6,"t1":-0.4,"rate":0.9},{"t0":-0.4,"t1":-0.2,"rate":1.2},{"t0":-0.2,"t1":0,"rate":0.7},{"t0":0,"t1":0.2,"rate":1.6},{"t0":0.2,"t1":0.4,"rate":2.8},{"t0":0.4,"t1":0.6,"rate":2.0},{"t0":0.6,"t1":0.8,"rate":0.7},{"t0":0.8,"t1":1,"rate":0.4},{"t0":1,"t1":1.2,"rate":0.9},{"t0":1.2,"t1":1.4,"rate":0.7},{"t0":1.4,"t1":1.6,"rate":0.2},{"t0":1.6,"t1":1.8,"rate":0.4},{"t0":1.8,"t1":2,"rate":0.2},{"t0":2,"t1":2.2,"rate":0.2},{"t0":2.2,"t1":2.4,"rate":0.4},{"t0":2.4,"t1":2.6,"rate":0.4},{"t0":2.6,"t1":2.8,"rate":0.2},{"t0":2.8,"t1":3,"rate":1.1},{"t0":3,"t1":3.2,"rate":0.7},{"t0":3.2,"t1":3.4,"rate":0.4},{"t0":3.4,"t1":3.6,"rate":0.4},{"t0":3.6,"t1":3.8,"rate":0.2},{"t0":3.8,"t1":4,"rate":0.4},{"t0":4,"t1":4.2,"rate":0.7},{"t0":4.2,"t1":4.4,"rate":0.4},{"t0":4.4,"t1":4.6,"rate":0.7},{"t0":4.6,"t1":4.8,"rate":0.4},{"t0":4.8,"t1":5,"rate":0.7}],
"lB":[{"t":-5.0,"z":0.09,"s":"Sucrose"},{"t":-4.8,"z":0.03,"s":"Sucrose"},{"t":-4.6,"z":0.10,"s":"Sucrose"},{"t":-4.4,"z":0.15,"s":"Sucrose"},{"t":-4.2,"z":0.11,"s":"Sucrose"},{"t":-4.0,"z":0.04,"s":"Sucrose"},{"t":-3.8,"z":0.03,"s":"Sucrose"},{"t":-3.6,"z":0.06,"s":"Sucrose"},{"t":-3.4,"z":0.04,"s":"Sucrose"},{"t":-3.2,"z":0.06,"s":"Sucrose"},{"t":-3.0,"z":0.04,"s":"Sucrose"},{"t":-2.8,"z":0.07,"s":"Sucrose"},{"t":-2.6,"z":0.11,"s":"Sucrose"},{"t":-2.4,"z":0.09,"s":"Sucrose"},{"t":-2.2,"z":0.08,"s":"Sucrose"},{"t":-2.0,"z":0.06,"s":"Sucrose"},{"t":-1.8,"z":0.06,"s":"Sucrose"},{"t":-1.6,"z":0.03,"s":"Sucrose"},{"t":-1.4,"z":0.04,"s":"Sucrose"},{"t":-1.2,"z":0.02,"s":"Sucrose"},{"t":-1.0,"z":0.03,"s":"Sucrose"},{"t":-0.8,"z":0.01,"s":"Sucrose"},{"t":-0.6,"z":0.02,"s":"Sucrose"},{"t":-0.4,"z":-0.01,"s":"Sucrose"},{"t":-0.2,"z":0.02,"s":"Sucrose"},{"t":0.0,"z":0.05,"s":"Sucrose"},{"t":0.2,"z":0.04,"s":"Sucrose"},{"t":0.4,"z":0.03,"s":"Sucrose"},{"t":0.6,"z":0.06,"s":"Sucrose"},{"t":0.8,"z":0.10,"s":"Sucrose"},{"t":1.0,"z":0.11,"s":"Sucrose"},{"t":1.2,"z":0.11,"s":"Sucrose"},{"t":1.4,"z":0.09,"s":"Sucrose"},{"t":1.6,"z":0.10,"s":"Sucrose"},{"t":1.8,"z":0.08,"s":"Sucrose"},{"t":2.0,"z":0.07,"s":"Sucrose"},{"t":2.2,"z":0.10,"s":"Sucrose"},{"t":2.4,"z":0.07,"s":"Sucrose"},{"t":2.6,"z":0.09,"s":"Sucrose"},{"t":2.8,"z":0.10,"s":"Sucrose"},{"t":3.0,"z":0.06,"s":"Sucrose"},{"t":3.2,"z":0.10,"s":"Sucrose"},{"t":3.4,"z":0.08,"s":"Sucrose"},{"t":3.6,"z":0.10,"s":"Sucrose"},{"t":3.8,"z":0.06,"s":"Sucrose"},{"t":4.0,"z":0.10,"s":"Sucrose"},{"t":4.2,"z":0.04,"s":"Sucrose"},{"t":4.4,"z":0.07,"s":"Sucrose"},{"t":4.6,"z":0.11,"s":"Sucrose"},{"t":4.8,"z":0.08,"s":"Sucrose"},
{"t":-5.0,"z":0.01,"s":"Empty"},{"t":-4.8,"z":-0.04,"s":"Empty"},{"t":-4.6,"z":0.00,"s":"Empty"},{"t":-4.4,"z":-0.02,"s":"Empty"},{"t":-4.2,"z":0.01,"s":"Empty"},{"t":-4.0,"z":-0.05,"s":"Empty"},{"t":-3.8,"z":-0.01,"s":"Empty"},{"t":-3.6,"z":0.02,"s":"Empty"},{"t":-3.4,"z":0.00,"s":"Empty"},{"t":-3.2,"z":0.03,"s":"Empty"},{"t":-3.0,"z":0.05,"s":"Empty"},{"t":-2.8,"z":0.07,"s":"Empty"},{"t":-2.6,"z":0.03,"s":"Empty"},{"t":-2.4,"z":0.01,"s":"Empty"},{"t":-2.2,"z":-0.02,"s":"Empty"},{"t":-2.0,"z":-0.06,"s":"Empty"},{"t":-1.8,"z":-0.10,"s":"Empty"},{"t":-1.6,"z":-0.05,"s":"Empty"},{"t":-1.4,"z":-0.07,"s":"Empty"},{"t":-1.2,"z":-0.04,"s":"Empty"},{"t":-1.0,"z":-0.02,"s":"Empty"},{"t":-0.8,"z":-0.05,"s":"Empty"},{"t":-0.6,"z":-0.03,"s":"Empty"},{"t":-0.4,"z":-0.06,"s":"Empty"},{"t":-0.2,"z":-0.02,"s":"Empty"},{"t":0.0,"z":0.00,"s":"Empty"},{"t":0.2,"z":0.01,"s":"Empty"},{"t":0.4,"z":0.04,"s":"Empty"},{"t":0.6,"z":0.03,"s":"Empty"},{"t":0.8,"z":-0.02,"s":"Empty"},{"t":1.0,"z":-0.03,"s":"Empty"},{"t":1.2,"z":-0.05,"s":"Empty"},{"t":1.4,"z":-0.04,"s":"Empty"},{"t":1.6,"z":-0.07,"s":"Empty"},{"t":1.8,"z":-0.03,"s":"Empty"},{"t":2.0,"z":-0.05,"s":"Empty"},{"t":2.2,"z":-0.02,"s":"Empty"},{"t":2.4,"z":0.00,"s":"Empty"},{"t":2.6,"z":0.05,"s":"Empty"},{"t":2.8,"z":0.02,"s":"Empty"},{"t":3.0,"z":0.06,"s":"Empty"},{"t":3.2,"z":0.04,"s":"Empty"},{"t":3.4,"z":0.01,"s":"Empty"},{"t":3.6,"z":0.05,"s":"Empty"},{"t":3.8,"z":-0.02,"s":"Empty"},{"t":4.0,"z":-0.05,"s":"Empty"},{"t":4.2,"z":0.02,"s":"Empty"},{"t":4.4,"z":0.07,"s":"Empty"},{"t":4.6,"z":0.03,"s":"Empty"},{"t":4.8,"z":0.04,"s":"Empty"},{"t":5.0,"z":0.18,"s":"Empty"},
{"t":-5.0,"z":-0.13,"s":"Extinction"},{"t":-4.8,"z":-0.08,"s":"Extinction"},{"t":-4.6,"z":-0.11,"s":"Extinction"},{"t":-4.4,"z":-0.09,"s":"Extinction"},{"t":-4.2,"z":-0.12,"s":"Extinction"},{"t":-4.0,"z":-0.15,"s":"Extinction"},{"t":-3.8,"z":-0.13,"s":"Extinction"},{"t":-3.6,"z":-0.10,"s":"Extinction"},{"t":-3.4,"z":-0.12,"s":"Extinction"},{"t":-3.2,"z":-0.11,"s":"Extinction"},{"t":-3.0,"z":-0.13,"s":"Extinction"},{"t":-2.8,"z":-0.09,"s":"Extinction"},{"t":-2.6,"z":-0.14,"s":"Extinction"},{"t":-2.4,"z":-0.04,"s":"Extinction"},{"t":-2.2,"z":-0.12,"s":"Extinction"},{"t":-2.0,"z":-0.14,"s":"Extinction"},{"t":-1.8,"z":-0.13,"s":"Extinction"},{"t":-1.6,"z":-0.19,"s":"Extinction"},{"t":-1.4,"z":-0.22,"s":"Extinction"},{"t":-1.2,"z":-0.17,"s":"Extinction"},{"t":-1.0,"z":-0.16,"s":"Extinction"},{"t":-0.8,"z":-0.20,"s":"Extinction"},{"t":-0.6,"z":-0.21,"s":"Extinction"},{"t":-0.4,"z":-0.19,"s":"Extinction"},{"t":-0.2,"z":-0.22,"s":"Extinction"},{"t":0.0,"z":-0.21,"s":"Extinction"},{"t":0.2,"z":-0.24,"s":"Extinction"},{"t":0.4,"z":-0.23,"s":"Extinction"},{"t":0.6,"z":-0.26,"s":"Extinction"},{"t":0.8,"z":-0.20,"s":"Extinction"},{"t":1.0,"z":-0.13,"s":"Extinction"},{"t":1.2,"z":-0.11,"s":"Extinction"},{"t":1.4,"z":-0.14,"s":"Extinction"},{"t":1.6,"z":-0.09,"s":"Extinction"},{"t":1.8,"z":-0.11,"s":"Extinction"},{"t":2.0,"z":-0.10,"s":"Extinction"},{"t":2.2,"z":-0.13,"s":"Extinction"},{"t":2.4,"z":-0.10,"s":"Extinction"},{"t":2.6,"z":-0.15,"s":"Extinction"},{"t":2.8,"z":-0.12,"s":"Extinction"},{"t":3.0,"z":-0.10,"s":"Extinction"},{"t":3.2,"z":-0.14,"s":"Extinction"},{"t":3.4,"z":-0.12,"s":"Extinction"},{"t":3.6,"z":-0.16,"s":"Extinction"},{"t":3.8,"z":-0.10,"s":"Extinction"},{"t":4.0,"z":-0.12,"s":"Extinction"},{"t":4.2,"z":-0.15,"s":"Extinction"},{"t":4.4,"z":-0.19,"s":"Extinction"},{"t":4.6,"z":-0.17,"s":"Extinction"},{"t":4.8,"z":-0.10,"s":"Extinction"},{"t":5.0,"z":-0.13,"s":"Extinction"}],
"lD":[{"t":-5.0,"z":-0.02,"s":"Sucrose"},{"t":-4.8,"z":0.05,"s":"Sucrose"},{"t":-4.6,"z":-0.04,"s":"Sucrose"},{"t":-4.4,"z":0.02,"s":"Sucrose"},{"t":-4.2,"z":0.15,"s":"Sucrose"},{"t":-4.0,"z":0.00,"s":"Sucrose"},{"t":-3.8,"z":0.06,"s":"Sucrose"},{"t":-3.6,"z":0.12,"s":"Sucrose"},{"t":-3.4,"z":-0.03,"s":"Sucrose"},{"t":-3.2,"z":0.08,"s":"Sucrose"},{"t":-3.0,"z":0.00,"s":"Sucrose"},{"t":-2.8,"z":0.04,"s":"Sucrose"},{"t":-2.6,"z":-0.05,"s":"Sucrose"},{"t":-2.4,"z":0.03,"s":"Sucrose"},{"t":-2.2,"z":-0.02,"s":"Sucrose"},{"t":-2.0,"z":0.05,"s":"Sucrose"},{"t":-1.8,"z":-0.06,"s":"Sucrose"},{"t":-1.6,"z":-0.22,"s":"Sucrose"},{"t":-1.4,"z":0.02,"s":"Sucrose"},{"t":-1.2,"z":-0.04,"s":"Sucrose"},{"t":-1.0,"z":0.06,"s":"Sucrose"},{"t":-0.8,"z":0.03,"s":"Sucrose"},{"t":-0.6,"z":0.10,"s":"Sucrose"},{"t":-0.4,"z":0.13,"s":"Sucrose"},{"t":-0.2,"z":0.15,"s":"Sucrose"},{"t":0.0,"z":0.20,"s":"Sucrose"},{"t":0.2,"z":0.10,"s":"Sucrose"},{"t":0.4,"z":0.02,"s":"Sucrose"},{"t":0.6,"z":-0.05,"s":"Sucrose"},{"t":0.8,"z":-0.08,"s":"Sucrose"},{"t":1.0,"z":0.00,"s":"Sucrose"},{"t":1.2,"z":-0.06,"s":"Sucrose"},{"t":1.4,"z":0.02,"s":"Sucrose"},{"t":1.6,"z":-0.10,"s":"Sucrose"},{"t":1.8,"z":0.00,"s":"Sucrose"},{"t":2.0,"z":-0.05,"s":"Sucrose"},{"t":2.2,"z":-0.09,"s":"Sucrose"},{"t":2.4,"z":-0.02,"s":"Sucrose"},{"t":2.6,"z":-0.10,"s":"Sucrose"},{"t":2.8,"z":0.00,"s":"Sucrose"},{"t":3.0,"z":-0.12,"s":"Sucrose"},{"t":3.2,"z":-0.04,"s":"Sucrose"},{"t":3.4,"z":-0.08,"s":"Sucrose"},{"t":3.6,"z":-0.15,"s":"Sucrose"},{"t":3.8,"z":-0.11,"s":"Sucrose"},{"t":4.0,"z":-0.20,"s":"Sucrose"},{"t":4.2,"z":-0.10,"s":"Sucrose"},{"t":4.4,"z":0.00,"s":"Sucrose"},{"t":4.6,"z":-0.06,"s":"Sucrose"},{"t":4.8,"z":0.00,"s":"Sucrose"},{"t":5.0,"z":-0.01,"s":"Sucrose"},
{"t":-5.0,"z":0.25,"s":"Empty"},{"t":-4.8,"z":0.04,"s":"Empty"},{"t":-4.6,"z":0.10,"s":"Empty"},{"t":-4.4,"z":0.00,"s":"Empty"},{"t":-4.2,"z":0.06,"s":"Empty"},{"t":-4.0,"z":-0.03,"s":"Empty"},{"t":-3.8,"z":0.08,"s":"Empty"},{"t":-3.6,"z":0.00,"s":"Empty"},{"t":-3.4,"z":0.10,"s":"Empty"},{"t":-3.2,"z":0.02,"s":"Empty"},{"t":-3.0,"z":-0.02,"s":"Empty"},{"t":-2.8,"z":-0.05,"s":"Empty"},{"t":-2.6,"z":0.05,"s":"Empty"},{"t":-2.4,"z":0.00,"s":"Empty"},{"t":-2.2,"z":-0.08,"s":"Empty"},{"t":-2.0,"z":0.02,"s":"Empty"},{"t":-1.8,"z":0.05,"s":"Empty"},{"t":-1.6,"z":0.00,"s":"Empty"},{"t":-1.4,"z":-0.05,"s":"Empty"},{"t":-1.2,"z":0.05,"s":"Empty"},{"t":-1.0,"z":0.03,"s":"Empty"},{"t":-0.8,"z":0.10,"s":"Empty"},{"t":-0.6,"z":0.05,"s":"Empty"},{"t":-0.4,"z":0.12,"s":"Empty"},{"t":-0.2,"z":0.18,"s":"Empty"},{"t":0.0,"z":0.22,"s":"Empty"},{"t":0.2,"z":0.28,"s":"Empty"},{"t":0.4,"z":0.10,"s":"Empty"},{"t":0.6,"z":0.03,"s":"Empty"},{"t":0.8,"z":-0.08,"s":"Empty"},{"t":1.0,"z":0.05,"s":"Empty"},{"t":1.2,"z":0.10,"s":"Empty"},{"t":1.4,"z":0.04,"s":"Empty"},{"t":1.6,"z":0.12,"s":"Empty"},{"t":1.8,"z":0.08,"s":"Empty"},{"t":2.0,"z":0.10,"s":"Empty"},{"t":2.2,"z":0.16,"s":"Empty"},{"t":2.4,"z":0.07,"s":"Empty"},{"t":2.6,"z":0.15,"s":"Empty"},{"t":2.8,"z":0.10,"s":"Empty"},{"t":3.0,"z":0.18,"s":"Empty"},{"t":3.2,"z":0.05,"s":"Empty"},{"t":3.4,"z":0.10,"s":"Empty"},{"t":3.6,"z":0.15,"s":"Empty"},{"t":3.8,"z":0.05,"s":"Empty"},{"t":4.0,"z":0.12,"s":"Empty"},{"t":4.2,"z":0.18,"s":"Empty"},{"t":4.4,"z":0.05,"s":"Empty"},{"t":4.6,"z":0.10,"s":"Empty"},{"t":4.8,"z":0.18,"s":"Empty"},{"t":5.0,"z":0.24,"s":"Empty"},
{"t":-5.0,"z":-0.05,"s":"Extinction"},{"t":-4.8,"z":0.05,"s":"Extinction"},{"t":-4.6,"z":-0.02,"s":"Extinction"},{"t":-4.4,"z":0.05,"s":"Extinction"},{"t":-4.2,"z":0.00,"s":"Extinction"},{"t":-4.0,"z":-0.10,"s":"Extinction"},{"t":-3.8,"z":-0.19,"s":"Extinction"},{"t":-3.6,"z":-0.05,"s":"Extinction"},{"t":-3.4,"z":0.02,"s":"Extinction"},{"t":-3.2,"z":-0.02,"s":"Extinction"},{"t":-3.0,"z":0.10,"s":"Extinction"},{"t":-2.8,"z":0.00,"s":"Extinction"},{"t":-2.6,"z":-0.10,"s":"Extinction"},{"t":-2.4,"z":0.05,"s":"Extinction"},{"t":-2.2,"z":0.30,"s":"Extinction"},{"t":-2.0,"z":0.00,"s":"Extinction"},{"t":-1.8,"z":0.25,"s":"Extinction"},{"t":-1.6,"z":-0.08,"s":"Extinction"},{"t":-1.4,"z":0.20,"s":"Extinction"},{"t":-1.2,"z":-0.05,"s":"Extinction"},{"t":-1.0,"z":0.28,"s":"Extinction"},{"t":-0.8,"z":0.18,"s":"Extinction"},{"t":-0.6,"z":0.30,"s":"Extinction"},{"t":-0.4,"z":0.22,"s":"Extinction"},{"t":-0.2,"z":0.40,"s":"Extinction"},{"t":0.0,"z":0.35,"s":"Extinction"},{"t":0.2,"z":0.66,"s":"Extinction"},{"t":0.4,"z":0.74,"s":"Extinction"},{"t":0.6,"z":0.30,"s":"Extinction"},{"t":0.8,"z":-0.05,"s":"Extinction"},{"t":1.0,"z":0.05,"s":"Extinction"},{"t":1.2,"z":-0.12,"s":"Extinction"},{"t":1.4,"z":-0.08,"s":"Extinction"},{"t":1.6,"z":-0.12,"s":"Extinction"},{"t":1.8,"z":-0.20,"s":"Extinction"},{"t":2.0,"z":-0.18,"s":"Extinction"},{"t":2.2,"z":-0.29,"s":"Extinction"},{"t":2.4,"z":-0.20,"s":"Extinction"},{"t":2.6,"z":-0.22,"s":"Extinction"},{"t":2.8,"z":-0.15,"s":"Extinction"},{"t":3.0,"z":-0.05,"s":"Extinction"},{"t":3.2,"z":-0.08,"s":"Extinction"},{"t":3.4,"z":-0.04,"s":"Extinction"},{"t":3.6,"z":-0.06,"s":"Extinction"},{"t":3.8,"z":-0.12,"s":"Extinction"},{"t":4.0,"z":-0.40,"s":"Extinction"},{"t":4.2,"z":-0.25,"s":"Extinction"},{"t":4.4,"z":-0.22,"s":"Extinction"},{"t":4.6,"z":-0.18,"s":"Extinction"},{"t":4.8,"z":0.00,"s":"Extinction"},{"t":5.0,"z":0.15,"s":"Extinction"}]
},
"concat":[
 {"width":113,"height":160,
  "layer":[
   {"data":{"values":[{"section":"Maintenance","start":-0.02,"end":1.94,"mid":0.94},{"section":"Extinction","start":2.09,"end":3.03,"mid":2.56}]},
    "mark":{"type":"rule","strokeWidth":2.5,"color":"#222"},
    "encoding":{"x":{"field":"start","type":"quantitative","scale":{"domain":[0,3],"nice":false,"range":[0,385]},"axis":null},"x2":{"field":"end"},
                "y":{"datum":0.05,"type":"quantitative","scale":{"domain":[0,1],"nice":false,"range":[-24,-64]},"axis":null}}},
   {"data":{"values":[{"section":"Maintenance","start":-0.02,"end":1.94,"mid":0.94},{"section":"Extinction","start":2.09,"end":3.03,"mid":2.56}]},
    "mark":{"type":"text","fontSize":17,"color":"#222","baseline":"middle"},
    "encoding":{"x":{"field":"mid","type":"quantitative","scale":{"domain":[0,3],"nice":false,"range":[0,385]},"axis":null},
                "y":{"datum":0.375,"type":"quantitative","scale":{"domain":[0,1],"nice":false,"range":[-24,-64]},"axis":null},"text":{"field":"section"}}},
   {"data":{"values":[{"letter":"A"}]},
    "mark":{"type":"text","fontSize":24,"color":"#111","baseline":"middle"},
    "encoding":{"x":{"datum":-0.086,"type":"quantitative","scale":{"domain":[0,3],"nice":false,"range":[0,385]},"axis":null},
                "y":{"datum":0.7,"type":"quantitative","scale":{"domain":[0,1],"nice":false,"range":[-24,-64]},"axis":null},"text":{"field":"letter"}}},
   {"data":{"values":[{"label":"Extinction Only"}]},
    "mark":{"type":"text","fontSize":20,"fontWeight":"bold","color":"#222","baseline":"middle"},
    "encoding":{"x":{"datum":2.283,"type":"quantitative","scale":{"domain":[0,3],"nice":false,"range":[0,385]},"axis":null},
                "y":{"datum":1.75,"type":"quantitative","scale":{"domain":[0,1],"nice":false,"range":[-24,-64]},"axis":null},"text":{"field":"label"}}},
   {"data":{"values":[{"panel":"Sucrose","label":"Sucrose PE","pos":0.44},{"panel":"Empty","label":"Empty PE","pos":1.5},{"panel":"Extinction","label":"Empty PE","pos":2.564}]},
    "mark":{"type":"text","fontSize":15,"baseline":"middle"},
    "encoding":{"x":{"field":"pos","type":"quantitative","scale":{"domain":[0,3],"nice":false,"range":[0,385]},"axis":null},
                "y":{"datum":-0.325,"type":"quantitative","scale":{"domain":[0,1],"nice":false,"range":[-24,-64]},"axis":null},
                "text":{"field":"label"},
                "color":{"field":"panel","type":"nominal","scale":{"domain":["Sucrose","Empty","Extinction"],"range":["#2e3192","#17a94f","#ed1c24"]},"legend":null}}},
   {"data":{"name":"rA1"},"mark":{"type":"tick","orient":"vertical","size":3,"thickness":2,"color":"#2e3192","opacity":1},
    "encoding":{"x":{"field":"t","type":"quantitative","scale":{"domain":[-5,5],"nice":false},"axis":null},
                "y":{"field":"r","type":"quantitative","scale":{"domain":[0.5,28.5],"nice":false,"zero":false,"range":[3,81]},"axis":null}}},
   {"data":{"name":"hA1"},"mark":{"type":"rect","fill":"#2e3192","stroke":"#4d4d4d","strokeWidth":0.7},
    "encoding":{"x":{"field":"t0","type":"quantitative","scale":{"domain":[-5,5],"nice":false},"axis":{"orient":"bottom","values":[-4,0,4],"domain":false,"title":null,"labelExpr":"datum.value","zindex":1}},"x2":{"field":"t1"},
                "y":{"field":"rate","type":"quantitative","scale":{"domain":[0,3],"nice":false,"range":[160,89]},"axis":{"orient":"left","values":[0,3],"title":"Frequency (imp/sec)","titleFontSize":17,"titleX":-27,"titleY":168,"titleAngle":-90,"titleAlign":"center","titleBaseline":"bottom","zindex":1}},"y2":{"datum":0}}}
  ],
  "resolve":{"scale":{"x":"independent","y":"independent"}}},
 {"width":113,"height":160,
  "layer":[
   {"data":{"name":"rA2"},"mark":{"type":"tick","orient":"vertical","size":3,"thickness":2,"color":"#17a94f","opacity":1},
    "encoding":{"x":{"field":"t","type":"quantitative","scale":{"domain":[-5,5],"nice":false},"axis":null},
                "y":{"field":"r","type":"quantitative","scale":{"domain":[0.5,28.5],"nice":false,"zero":false,"range":[3,81]},"axis":null}}},
   {"data":{"name":"hA2"},"mark":{"type":"rect","fill":"#17a94f","stroke":"#4d4d4d","strokeWidth":0.7},
    "encoding":{"x":{"field":"t0","type":"quantitative","scale":{"domain":[-5,5],"nice":false},"axis":{"orient":"bottom","values":[-4,0,4],"domain":false,"title":null,"labelExpr":"datum.value","zindex":1}},"x2":{"field":"t1"},
                "y":{"field":"rate","type":"quantitative","scale":{"domain":[0,3],"nice":false,"range":[160,89]},"axis":{"orient":"left","values":[0,3],"title":null,"zindex":1}},"y2":{"datum":0}}}
  ],
  "resolve":{"scale":{"x":"independent","y":"independent"}}},
 {"width":142,"height":160,
  "layer":[
   {"data":{"values":[{"session":"Extinction"}]},"mark":{"type":"rect","fill":"#d9dadb"},
    "encoding":{"x":{"datum":-5.35,"type":"quantitative","scale":{"domain":[-5,5],"nice":false,"range":[0,113]},"axis":null},"x2":{"datum":5.3},
                "y":{"datum":0,"type":"quantitative","scale":{"domain":[0,1],"nice":false,"range":[-24,384]},"axis":null},"y2":{"datum":1}}},
   {"data":{"name":"rA3"},"mark":{"type":"tick","orient":"vertical","size":3,"thickness":2,"color":"#ed1c24","opacity":1},
    "encoding":{"x":{"field":"t","type":"quantitative","scale":{"domain":[-5,5],"nice":false,"range":[0,113]},"axis":null},
                "y":{"field":"r","type":"quantitative","scale":{"domain":[0.5,28.5],"nice":false,"zero":false,"range":[3,81]},"axis":null}}},
   {"data":{"name":"hA3"},"mark":{"type":"rect","fill":"#ed1c24","stroke":"#4d4d4d","strokeWidth":0.7},
    "encoding":{"x":{"field":"t0","type":"quantitative","scale":{"domain":[-5,5],"nice":false,"range":[0,113]},"axis":{"orient":"bottom","values":[-4,0,4],"domain":false,"title":null,"labelExpr":"datum.value","zindex":1}},"x2":{"field":"t1"},
                "y":{"field":"rate","type":"quantitative","scale":{"domain":[0,3],"nice":false,"range":[160,89]},"axis":{"orient":"left","values":[0,3],"title":null,"zindex":1}},"y2":{"datum":0}}}
  ],
  "resolve":{"scale":{"x":"independent","y":"independent"}}},
 {"width":142,"height":160,
  "layer":[
   {"data":{"values":[{"z":0}]},"mark":{"type":"rule","strokeDash":[7,5],"strokeWidth":1.5,"color":"#111"},
    "encoding":{"y":{"field":"z","type":"quantitative","scale":{"domain":[-0.3,0.3],"nice":false,"range":[124,-25]}}}},
   {"data":{"name":"lB"},"mark":{"type":"line","strokeWidth":3},
    "encoding":{"x":{"field":"t","type":"quantitative","scale":{"domain":[-5,5],"nice":false},"axis":{"values":[-4,0,4],"title":null,"labelExpr":"datum.value","labelFontSize":14,"offset":-36}},
                "y":{"field":"z","type":"quantitative","scale":{"domain":[-0.3,0.3],"nice":false,"range":[124,-25]},"axis":{"values":[-0.3,0,0.3],"title":"Z-score","labelExpr":"datum.value","labelFontSize":13,"titleX":-20,"titleAngle":-90,"titleAlign":"center","titleBaseline":"bottom"}},
                "color":{"field":"s","type":"nominal","scale":{"domain":["Sucrose","Empty","Extinction"],"range":["#2e3192","#1ba884","#ee2d2d"]},"legend":null}}},
   {"data":{"values":[{"label":"Extinction Only"}]},"mark":{"type":"text","fontSize":13,"baseline":"middle"},
    "encoding":{"x":{"datum":0.2,"type":"quantitative"},"y":{"datum":0.425,"type":"quantitative"},"text":{"field":"label"}}},
   {"data":{"values":[{"label":"B"}]},"mark":{"type":"text","fontSize":24,"baseline":"middle"},
    "encoding":{"x":{"datum":-6.76,"type":"quantitative"},"y":{"datum":0.42,"type":"quantitative"},"text":{"field":"label"}}}
  ]},
 {"width":113,"height":165,
  "title":{"text":"C","fontSize":24,"anchor":"start","frame":"bounds","offset":0,"color":"#111"},
  "layer":[
   {"data":{"name":"rC1"},"mark":{"type":"tick","orient":"vertical","size":3,"thickness":2,"color":"#2e3192","opacity":1},
    "encoding":{"x":{"field":"t","type":"quantitative","scale":{"domain":[-5,5],"nice":false},"axis":null},
                "y":{"field":"r","type":"quantitative","scale":{"domain":[0.5,24.5],"nice":false,"zero":false,"range":[2,83]},"axis":null}}},
   {"data":{"name":"hC1"},"mark":{"type":"rect","fill":"#2e3192","stroke":"#4d4d4d","strokeWidth":0.7},
    "encoding":{"x":{"field":"t0","type":"quantitative","scale":{"domain":[-5,5],"nice":false},"axis":{"orient":"bottom","values":[-4,0,4],"domain":false,"title":null,"labelExpr":"datum.value","zindex":1}},"x2":{"field":"t1"},
                "y":{"field":"rate","type":"quantitative","scale":{"domain":[0,3],"nice":false,"range":[165,93]},"axis":{"orient":"left","values":[0,3],"title":null,"zindex":1}},"y2":{"datum":0}}}
  ],
  "resolve":{"scale":{"x":"independent","y":"independent"}}},
 {"width":113,"height":165,
  "layer":[
   {"data":{"name":"rC2"},"mark":{"type":"tick","orient":"vertical","size":3,"thickness":2,"color":"#17a94f","opacity":1},
    "encoding":{"x":{"field":"t","type":"quantitative","scale":{"domain":[-5,5],"nice":false},"axis":null},
                "y":{"field":"r","type":"quantitative","scale":{"domain":[0.5,24.5],"nice":false,"zero":false,"range":[2,83]},"axis":null}}},
   {"data":{"name":"hC2"},"mark":{"type":"rect","fill":"#17a94f","stroke":"#4d4d4d","strokeWidth":0.7},
    "encoding":{"x":{"field":"t0","type":"quantitative","scale":{"domain":[-5,5],"nice":false},"axis":{"orient":"bottom","values":[-4,0,4],"domain":false,"title":"Time (s)","titleFontSize":18,"titlePadding":6,"labelExpr":"datum.value","zindex":1}},"x2":{"field":"t1"},
                "y":{"field":"rate","type":"quantitative","scale":{"domain":[0,3],"nice":false,"range":[165,93]},"axis":{"orient":"left","values":[0,3],"title":null,"zindex":1}},"y2":{"datum":0}}}
  ],
  "resolve":{"scale":{"x":"independent","y":"independent"}}},
 {"width":142,"height":165,
  "layer":[
   {"data":{"name":"rC3"},"mark":{"type":"tick","orient":"vertical","size":3,"thickness":2,"color":"#ed1c24","opacity":1},
    "encoding":{"x":{"field":"t","type":"quantitative","scale":{"domain":[-5,5],"nice":false,"range":[0,113]},"axis":null},
                "y":{"field":"r","type":"quantitative","scale":{"domain":[0.5,20.5],"nice":false,"zero":false,"range":[2,83]},"axis":null}}},
   {"data":{"name":"hC3"},"mark":{"type":"rect","fill":"#ed1c24","stroke":"#4d4d4d","strokeWidth":0.7},
    "encoding":{"x":{"field":"t0","type":"quantitative","scale":{"domain":[-5,5],"nice":false,"range":[0,113]},"axis":{"orient":"bottom","values":[-4,0,4],"domain":false,"title":null,"labelExpr":"datum.value","zindex":1}},"x2":{"field":"t1"},
                "y":{"field":"rate","type":"quantitative","scale":{"domain":[0,3],"nice":false,"range":[165,93]},"axis":{"orient":"left","values":[0,3],"title":null,"zindex":1}},"y2":{"datum":0}}}
  ],
  "resolve":{"scale":{"x":"independent","y":"independent"}}},
 {"width":142,"height":165,
  "layer":[
   {"data":{"values":[{"z":0}]},"mark":{"type":"rule","strokeDash":[7,5],"strokeWidth":1.5,"color":"#111"},
    "encoding":{"y":{"field":"z","type":"quantitative","scale":{"domain":[-0.6,0.8],"nice":false,"range":[163,14]}}}},
   {"data":{"name":"lD"},"mark":{"type":"line","strokeWidth":3},
    "encoding":{"x":{"field":"t","type":"quantitative","scale":{"domain":[-5,5],"nice":false},"axis":{"values":[-4,0,4],"title":"Time (s)","titleFontSize":18,"titlePadding":8,"labelExpr":"datum.value","labelFontSize":14,"offset":-2}},
                "y":{"field":"z","type":"quantitative","scale":{"domain":[-0.6,0.8],"nice":false,"range":[163,14]},"axis":{"values":[-0.6,0,0.8],"title":"Z-score","labelExpr":"datum.value","labelFontSize":13,"titleX":-20,"titleAngle":-90,"titleAlign":"center","titleBaseline":"bottom"}},
                "color":{"field":"s","type":"nominal","scale":{"domain":["Sucrose","Empty","Extinction"],"range":["#2e3192","#1ba884","#ee2d2d"]},
                         "legend":{"orient":"none","legendX":85,"legendY":-8,"title":null,"symbolType":"stroke","symbolStrokeWidth":4,"symbolSize":144,"labelFontSize":12,"rowPadding":1,"labelOffset":2,"padding":0,"labelColor":"#111"}}}},
   {"data":{"values":[{"label":"Extinction Only"}]},"mark":{"type":"text","fontSize":13,"baseline":"middle"},
    "encoding":{"x":{"datum":-0.15,"type":"quantitative"},"y":{"datum":1.138,"type":"quantitative"},"text":{"field":"label"}}},
   {"data":{"values":[{"label":"D"}]},"mark":{"type":"text","fontSize":24,"baseline":"middle"},
    "encoding":{"x":{"datum":-6.76,"type":"quantitative"},"y":{"datum":1.044,"type":"quantitative"},"text":{"field":"label"}}}
  ]}
],
"columns":4,
"spacing":{"row":36,"column":23},
"bounds":"flush",
"resolve":{"scale":{"color":"independent"},"legend":{"color":"independent"}}
}
